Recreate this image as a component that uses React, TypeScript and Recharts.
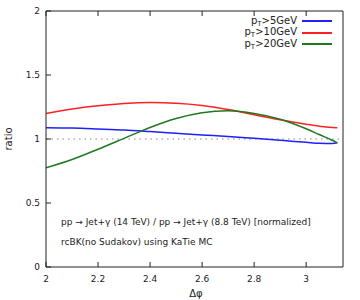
import React from 'react';
import { LineChart, Line, XAxis, YAxis, ReferenceLine, Customized } from 'recharts';

// values
const dphi = [2.0, 2.1, 2.2, 2.3, 2.4, 2.5, 2.6, 2.7, 2.8, 2.9, 3.0, 3.05, 3.1, 3.12];
const pt5 = [1.088, 1.085, 1.078, 1.07, 1.058, 1.045, 1.032, 1.02, 1.005, 0.99, 0.975, 0.966, 0.964, 0.97];
const pt10 = [1.2, 1.235, 1.26, 1.278, 1.285, 1.28, 1.262, 1.23, 1.19, 1.15, 1.115, 1.1, 1.09, 1.088];
const pt20 = [0.775, 0.84, 0.92, 1.005, 1.09, 1.16, 1.205, 1.22, 1.2, 1.155, 1.08, 1.035, 0.99, 0.97];

const xTicks = [2, 2.2, 2.4, 2.6, 2.8, 3];
const yTicks = [0, 0.5, 1, 1.5, 2];

const series = [
  { key: 'pt5', cut: '>5GeV', color: '#1f1fff' },
  { key: 'pt10', cut: '>10GeV', color: '#ff2020' },
  { key: 'pt20', cut: '>20GeV', color: '#1f7a1f' },
];

const data = dphi.map((x, i) => ({ x, pt5: pt5[i], pt10: pt10[i], pt20: pt20[i] }));

const FONT = '"DejaVu Sans", sans-serif';
const AXIS = '#222';

const BottomTick = ({ x, y, payload }: any) => (
  <g>
    <line x1={x} y1={y} x2={x} y2={y - 5} stroke={AXIS} />
    <text x={x} y={y + 14.5} textAnchor="middle" fontSize={9} fill="#222" fontFamily={FONT}>
      {payload.value}
    </text>
  </g>
);

const LeftTick = ({ x, y, payload }: any) => (
  <g>
    <line x1={x} y1={y} x2={x + 5} y2={y} stroke={AXIS} />
    <text x={x - 6} y={y + 3.2} textAnchor="end" fontSize={9} fill="#222" fontFamily={FONT}>
      {payload.value}
    </text>
  </g>
);

const TopTick = ({ x, y }: any) => <line x1={x} y1={y} x2={x} y2={y + 5} stroke={AXIS} />;
const RightTick = ({ x, y }: any) => <line x1={x} y1={y} x2={x - 5} y2={y} stroke={AXIS} />;

const LegendBox = () => (
  <div style={{ position: 'absolute', top: 15.5, right: 28, fontFamily: FONT, fontSize: 10, color: '#222' }}>
    {series.map((s) => (
      <div key={s.key} style={{ display: 'flex', alignItems: 'center', justifyContent: 'flex-end', height: 11.5 }}>
        <span>
          p<sub style={{ fontSize: 7, verticalAlign: '-2px' }}>T</sub>
          {s.cut}
        </span>
        <span style={{ display: 'inline-block', width: 30, height: 0, borderTop: `2px solid ${s.color}`, marginLeft: 5 }} />
      </div>
    ))}
  </div>
);

const Notes = () => (
  <g fontFamily={FONT} fontSize={9} fill="#222">
    <text x={61} y={225}>pp → Jet+γ (14 TeV) / pp → Jet+γ (8.8 TeV) [normalized]</text>
    <text x={61} y={245}>rcBK(no Sudakov) using KaTie MC</text>
    <text x={196} y={297} textAnchor="middle" fontSize={10}>Δφ</text>
    <text x={12} y={139} textAnchor="middle" fontSize={10} transform="rotate(-90 12 139)">ratio</text>
  </g>
);

export default function App() {
  return (
    <div style={{ position: 'relative', width: 360, height: 300, background: '#fff' }}>
      <style>{'body{margin:0}'}</style>
      <LineChart width={360} height={300} data={data} margin={{ top: 10, right: 16, left: 0, bottom: 0 }}>
        <XAxis
          dataKey="x"
          type="number"
          domain={[2, Math.PI]}
          ticks={xTicks}
          height={33}
          tickSize={0}
          tickMargin={0}
          tickLine={false}
          tick={<BottomTick />}
          axisLine={{ stroke: AXIS }}
          allowDataOverflow
        />
        <XAxis
          xAxisId="top"
          orientation="top"
          dataKey="x"
          type="number"
          domain={[2, Math.PI]}
          ticks={xTicks}
          height={1}
          tickSize={0}
          tickMargin={0}
          tickLine={false}
          tick={<TopTick />}
          axisLine={{ stroke: AXIS }}
        />
        <YAxis
          domain={[0, 2]}
          ticks={yTicks}
          width={46}
          tickSize={0}
          tickMargin={0}
          tickLine={false}
          tick={<LeftTick />}
          axisLine={{ stroke: AXIS }}
        />
        <YAxis
          yAxisId="right"
          orientation="right"
          domain={[0, 2]}
          ticks={yTicks}
          width={1}
          tickSize={0}
          tickMargin={0}
          tickLine={false}
          tick={<RightTick />}
          axisLine={{ stroke: AXIS }}
        />
        <ReferenceLine y={1} stroke="#888" strokeDasharray="1.5 4" strokeWidth={1.2} />
        {series.map((s) => (
          <Line
            key={s.key}
            dataKey={s.key}
            type="monotone"
            stroke={s.color}
            strokeWidth={1.5}
            dot={false}
            isAnimationActive={false}
          />
        ))}
        <Customized component={<Notes />} />
      </LineChart>
      <LegendBox />
    </div>
  );
}
